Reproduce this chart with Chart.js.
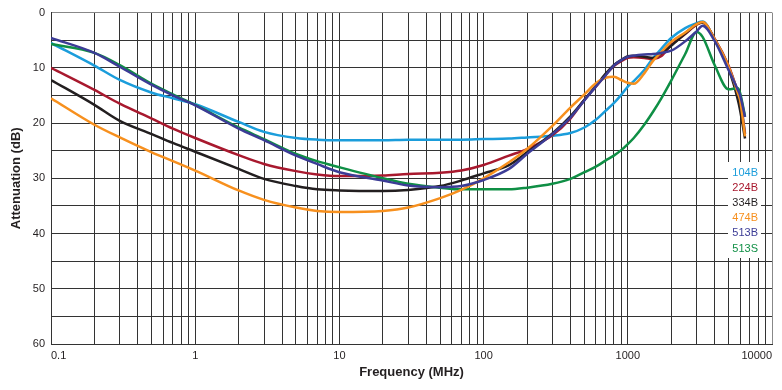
<!DOCTYPE html>
<html>
<head>
<meta charset="utf-8">
<script src="https://cdn.jsdelivr.net/npm/chart.js@4/dist/chart.umd.min.js"></script>
<style>
  html, body { margin: 0; padding: 0; background: #fff; }
  #wrap { width: 782px; height: 390px; }
</style>
</head>
<body>
<div id="wrap"><canvas id="chart" width="782" height="390"></canvas></div>
<script>
// frequency points (MHz) shared by all series
const freqs = [0.1, 0.2, 0.3, 0.5, 0.7, 1, 2, 3, 5, 7, 10,
  20, 30, 50, 70, 100,
  150, 200, 300, 400, 500, 600, 700, 800, 900,
  1000, 1100, 1300, 1500, 1700,
  2000, 2500, 3000, 3300, 4000, 5000, 5800, 6000, 6500];

// attenuation (dB)
const att104B = [5.5, 9.6, 12.2, 14.5, 15.5, 16.6, 19.8, 21.6, 22.7, 23.0, 23.1,
  23.1, 23.0, 23.0, 23.0, 22.9,
  22.8, 22.6, 22.3, 21.8, 20.8, 19.4, 17.8, 16.4, 14.9,
  13.4, 12.4, 10.4, 8.2, 6.6,
  4.6, 2.8, 1.9, 1.6, 4.8, 9.8, 14.5, 15.8, 21.8];
const att224B = [10.0, 14.0, 16.5, 19.2, 21.0, 22.7, 25.8, 27.4, 28.7, 29.3, 29.6,
  29.5, 29.2, 29.0, 28.6, 27.6,
  25.9, 24.7, 22.2, 19.2, 15.8, 13.4, 11.3, 9.7, 8.8,
  8.2, 8.1, 8.2, 8.4, 7.9,
  5.9, 3.9, 2.2, 1.8, 4.7, 9.6, 14.4, 15.6, 22.0];
const att334B = [12.2, 16.7, 19.6, 22.0, 23.6, 25.2, 28.3, 30.1, 31.4, 32.0, 32.2,
  32.3, 32.1, 31.4, 30.4, 29.1,
  27.6, 25.3, 21.9, 18.8, 15.8, 13.3, 11.1, 9.5, 8.6,
  7.9, 7.8, 8.0, 8.2, 7.4,
  6.0, 3.8, 2.1, 1.8, 4.9, 10.2, 15.8, 17.6, 22.8];
const att474B = [15.5, 20.3, 22.6, 25.3, 26.9, 28.6, 32.2, 33.9, 35.3, 35.9, 36.1,
  35.9, 35.3, 33.6, 32.1, 30.0,
  27.1, 24.7, 20.5, 17.2, 14.8, 12.8, 11.8, 11.6, 12.2,
  12.7, 12.9, 11.0, 8.7, 7.2,
  5.3, 3.6, 2.1, 1.7, 4.8, 9.8, 14.6, 15.8, 22.4];
const att513B = [4.6, 7.3, 9.8, 13.1, 15.0, 16.8, 21.0, 23.1, 25.9, 27.4, 28.9,
  30.4, 31.3, 31.6, 31.4, 30.3,
  28.3, 25.6, 22.0, 19.0, 15.9, 13.4, 11.4, 9.6, 8.6,
  8.0, 7.8, 7.6, 7.5, 7.3,
  6.9, 5.2, 3.4, 2.4, 5.1, 10.4, 14.0, 14.9, 18.9];
const att513S = [5.7, 7.3, 9.5, 12.9, 14.8, 16.7, 20.8, 22.9, 25.6, 26.9, 28.0,
  30.0, 31.0, 31.7, 32.0, 32.0,
  32.0, 31.7, 31.0, 30.1, 28.9, 27.9, 26.8, 25.9, 24.9,
  23.8, 22.7, 20.3, 17.9, 15.6,
  12.3, 7.5, 3.5, 4.4, 9.5, 13.9, 13.7, 14.5, 18.8];

const seriesNames = ['104B', '224B', '334B', '474B', '513B', '513S'];
const seriesValues = [att104B, att224B, att334B, att474B, att513B, att513S];
const seriesColors = ['#1b9ddb', '#a8192e', '#231f20', '#f7901e', '#3c3c96', '#0f8f45'];
const drawOrder = [6, 5, 4, 2, 1, 3];

// axis ticks
const decades = [0.1, 1, 10, 100, 1000, 10000];
const decadeLabels = ['0.1', '1', '10', '100', '1000', '10000'];
const yTicks = [0, 5, 10, 15, 20, 25, 30, 35, 40, 45, 50, 55, 60];

const xGrid = [];
decades.slice(0, -1).forEach(d => {
  for (let m = 1; m <= 9; m++) xGrid.push(d * m);
});
xGrid.push(10000);

function decadeIndex(v) {
  return decades.findIndex(d => Math.abs(v - d) / d < 1e-6);
}

const datasets = seriesNames.map((name, i) => ({
  label: name,
  data: freqs.map((f, j) => ({ x: f, y: seriesValues[i][j] })),
  borderColor: seriesColors[i],
  borderWidth: 2.5,
  pointRadius: 0,
  fill: false,
  cubicInterpolationMode: 'monotone',
  order: drawOrder[i]
}));

const legendBox = {
  id: 'legendBox',
  afterDraw(chart) {
    const ctx = chart.ctx;
    ctx.save();
    ctx.fillStyle = '#fff';
    ctx.fillRect(728, 162, 33, 96);
    ctx.font = '11px "Liberation Sans", Arial, sans-serif';
    ctx.textAlign = 'right';
    ctx.textBaseline = 'middle';
    seriesNames.forEach((name, i) => {
      ctx.fillStyle = seriesColors[i];
      ctx.fillText(name, 758, 173 + i * 15.1);
    });
    ctx.restore();
  }
};

new Chart(document.getElementById('chart'), {
  type: 'line',
  data: { datasets: datasets },
  options: {
    responsive: false,
    animation: false,
    events: [],
    layout: { padding: { top: 8, right: 10, left: 0, bottom: 0 } },
    plugins: {
      legend: { display: false },
      tooltip: { enabled: false }
    },
    scales: {
      x: {
        type: 'logarithmic',
        position: 'bottom',
        min: 0.1,
        max: 10000,
        afterBuildTicks: s => { s.ticks = xGrid.map(v => ({ value: v })); },
        afterFit: s => { s.height = 46; },
        ticks: {
          autoSkip: false,
          maxRotation: 0,
          align: 'inner',
          padding: 5,
          color: '#231f20',
          font: { family: '"Liberation Sans", Arial, sans-serif', size: 11 },
          callback: v => {
            const k = decadeIndex(v);
            return k >= 0 ? decadeLabels[k] : '';
          }
        },
        grid: {
          drawTicks: false,
          lineWidth: 1,
          color: ctx => (ctx.tick && ctx.tick.value === 10000) ? '#888' : '#333'
        },
        border: { display: true, color: '#333', width: 1 },
        title: {
          display: true,
          text: 'Frequency (MHz)',
          color: '#231f20',
          font: { family: '"Liberation Sans", Arial, sans-serif', size: 13, weight: 'bold' },
          padding: { top: 0, bottom: 10 }
        }
      },
      y: {
        type: 'linear',
        min: 0,
        max: 60,
        reverse: true,
        afterBuildTicks: s => { s.ticks = yTicks.map(v => ({ value: v })); },
        afterFit: s => { s.width = 51; },
        ticks: {
          padding: 6,
          color: '#231f20',
          font: { family: '"Liberation Sans", Arial, sans-serif', size: 11 },
          callback: v => (v % 10 === 0 ? String(v) : '')
        },
        grid: {
          drawTicks: false,
          lineWidth: 1,
          color: ctx => (ctx.tick && ctx.tick.value === 0) ? '#888' : '#333'
        },
        border: { display: true, color: '#333', width: 1 },
        title: {
          display: true,
          text: 'Attenuation (dB)',
          color: '#231f20',
          font: { family: '"Liberation Sans", Arial, sans-serif', size: 13, weight: 'bold' },
          padding: { top: 9, bottom: 0 }
        }
      }
    }
  },
  plugins: [legendBox]
});
</script>
</body>
</html>
